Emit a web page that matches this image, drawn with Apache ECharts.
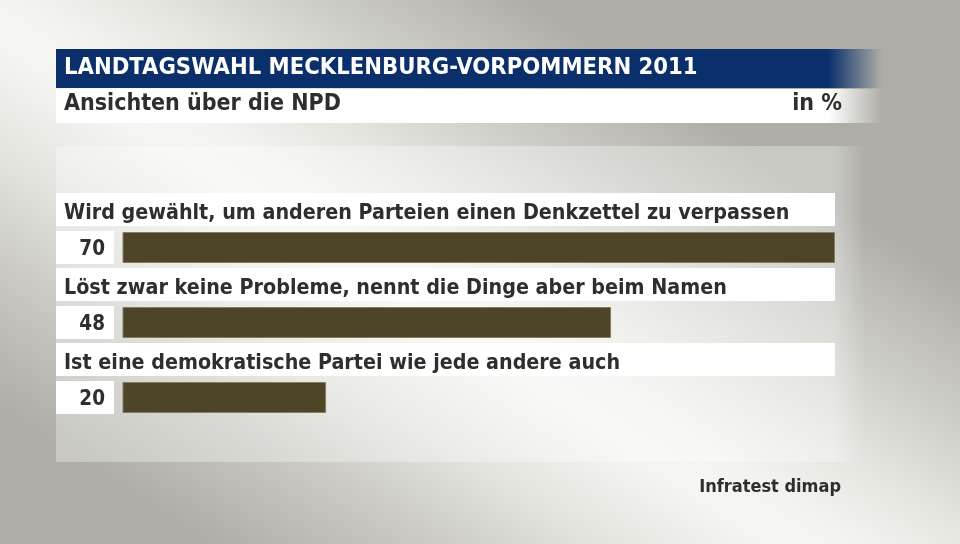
<!DOCTYPE html>
<html>
<head>
<meta charset="utf-8">
<script src="https://cdn.jsdelivr.net/npm/echarts@6/dist/echarts.min.js"></script>
<style>
html,body{margin:0;padding:0;width:960px;height:544px;overflow:hidden;}
#bg{position:absolute;left:0;top:0;width:960px;height:544px;
background: linear-gradient(33deg, #afaea6 0%, #b0afa7 12%, #c6c5be 22%, #e2e3dd 33%, #f5f6f1 43%, #f4f5f0 47%, #e4e5df 55%, #d0d0ca 63%, #afaea6 76%, #afaea6 100%);}
#chart{position:absolute;left:0;top:0;width:960px;height:544px;}
</style>
</head>
<body>
<div id="bg"></div>
<div id="chart"></div>
<script>
var title = 'LANDTAGSWAHL MECKLENBURG-VORPOMMERN 2011';
var subtitle = 'Ansichten über die NPD';
var unit = 'in %';
var source = 'Infratest dimap';
var categories = [
  'Wird gewählt, um anderen Parteien einen Denkzettel zu verpassen',
  'Löst zwar keine Probleme, nennt die Dinge aber beim Namen',
  'Ist eine demokratische Partei wie jede andere auch'
];
var values = [70, 48, 20];

var FONT = "'DejaVu Sans Condensed','Liberation Sans Narrow','Open Sans',sans-serif";
var TXT = '#2e2e2c';

var chart = echarts.init(document.getElementById('chart'), null, {renderer:'canvas'});
chart.setOption({
  backgroundColor: 'transparent',
  animation: false,
  grid: {left: 122.5, right: 125, top: 210, bottom: 109, containLabel: false},
  xAxis: {type:'value', min:0, max:70, show:false},
  yAxis: {type:'category', data: categories, inverse:true, show:false},
  graphic: [
    {type:'rect', z:0, shape:{x:56,y:146,width:810,height:316},
     style:{fill:{type:'linear',x:0,y:0,x2:1,y2:0,colorStops:[
       {offset:0,color:'rgba(255,255,255,0.32)'},{offset:0.96,color:'rgba(255,255,255,0.32)'},{offset:1,color:'rgba(255,255,255,0)'}]}}},
    {type:'rect', z:1, shape:{x:56,y:49,width:826,height:39},
     style:{fill:{type:'linear',x:0,y:0,x2:1,y2:0,colorStops:[
       {offset:0,color:'#0a2f6b'},{offset:0.935,color:'#0a2f6b'},{offset:1,color:'rgba(10,47,107,0)'}]}}},
    {type:'rect', z:1, shape:{x:56,y:89,width:826,height:34},
     style:{fill:{type:'linear',x:0,y:0,x2:1,y2:0,colorStops:[
       {offset:0,color:'#ffffff'},{offset:0.935,color:'#ffffff'},{offset:1,color:'rgba(255,255,255,0)'}]}}},
    {type:'text', z:2, left:64, top:56, style:{text:title, fill:'#ffffff', font:'bold 23.6px '+FONT}},
    {type:'text', z:2, left:64, top:93, style:{text:subtitle, fill:TXT, font:'bold 23px '+FONT}},
    {type:'text', z:2, right:118, top:93, style:{text:unit, fill:TXT, font:'bold 23px '+FONT}},
    {type:'text', z:2, right:119, top:478, style:{text:source, fill:TXT, font:'bold 18px '+FONT}}
  ],
  series: [
    {
      type:'custom', z:3,
      data: values.map(function(v,i){return [v,i];}),
      encode:{x:0,y:1},
      renderItem: function(params, api){
        var i = api.value(1);
        var c = api.coord([0,i]);
        var cy = c[1];
        var xr = api.coord([70,i])[0];
        return {type:'group', children:[
          {type:'rect', shape:{x:56,y:cy-54.5,width:xr-56,height:33}, style:{fill:'#ffffff'}},
          {type:'text', style:{text:categories[i], x:64, y:cy-34.5, textVerticalAlign:'middle', fill:TXT, font:'bold 21.3px '+FONT}},
          {type:'rect', shape:{x:56,y:cy-16.5,width:58,height:33}, style:{fill:'#ffffff'}},
          {type:'text', style:{text:String(api.value(0)), x:105, y:cy+2, textAlign:'right', textVerticalAlign:'middle', fill:TXT, font:'bold 20.5px '+FONT}}
        ]};
      }
    },
    {
      type:'bar', z:4,
      data: values,
      barWidth: 31,
      itemStyle:{color:'#4e4428', borderColor:'#857c60', borderWidth:1},
      label:{show:false}
    }
  ]
});
</script>
</body>
</html>
